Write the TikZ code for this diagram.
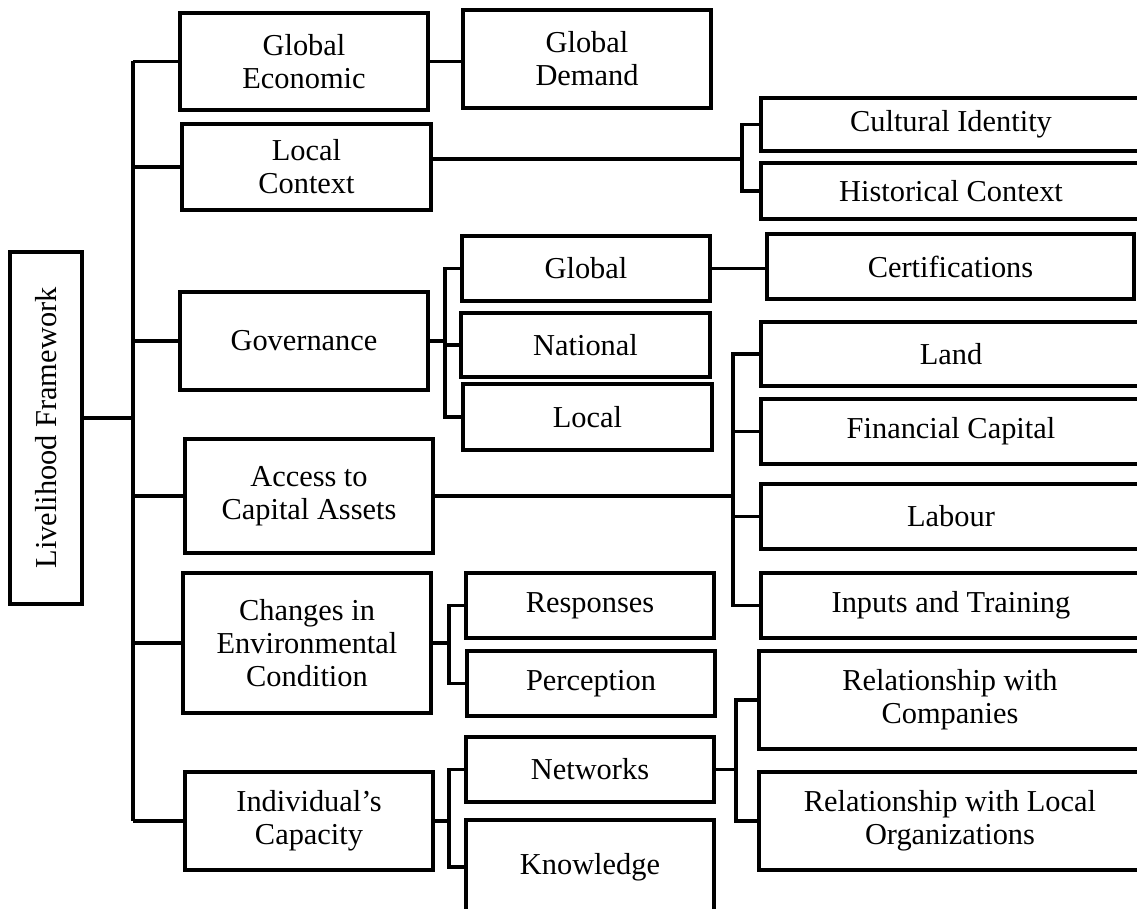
\documentclass[tikz,border=0pt]{standalone}
\usepackage{fontspec}
\setmainfont{Liberation Serif}

\tikzset{
    box/.style={draw, line width=1.9pt, align=center, inner sep=0pt,
        font=\fontsize{15.2pt}{16.6pt}\selectfont},
    dims/.style 2 args={minimum width=#1, minimum height=#2},
    link/.style={line width=1.8pt},
}

\begin{document}
\begin{tikzpicture}[x=0.5pt, y=-0.5pt]
    \useasboundingbox (0,0) rectangle (1137,909);
    \clip (0,0) rectangle (1137,909);

    % root
    \node[box, dims={36pt}{176pt}] (root) at (46,428) {\rotatebox{90}{Livelihood Framework}};

    % first level
    \node[box, dims={124pt}{48.5pt}] (ge) at (304,61.5) {Global\\Economic};
    \node[box, dims={124.5pt}{43pt}] (lc) at (306.5,167) {Local\\Context};
    \node[box, dims={124pt}{49pt}] (gov) at (304,341) {Governance};
    \node[box, dims={124pt}{57pt}] (acc) at (309,496) {Access to\\Capital Assets};
    \node[box, dims={124pt}{70pt}] (chg) at (307,643) {Changes in\\Environmental\\Condition};
    \node[box, dims={124pt}{49pt}] (ind) at (309,821) {Individual’s\\Capacity};

    % second level
    \node[box, dims={124pt}{49pt}] (gd) at (587,59) {Global\\Demand};
    \node[box, dims={124pt}{32.5pt}] (glob) at (586,268.5) {Global};
    \node[box, dims={124.5pt}{32pt}] (nat) at (585.5,345) {National};
    \node[box, dims={124.5pt}{33pt}] (loc) at (587.5,417) {Local};
    \node[box, dims={124pt}{32.5pt}] (resp) at (590,605.5) {Responses};
    \node[box, dims={124pt}{32.5pt}] (perc) at (591,683.5) {Perception};
    \node[box, dims={124pt}{32.5pt}] (net) at (590,769.5) {Networks};
    \node[box, dims={124pt}{47pt}] (know) at (590,867) {Knowledge};

    % third level
    \node[box, dims={190pt}{26.5pt}] (cult) at (951,124.5) {Cultural Identity};
    \node[box, dims={190pt}{28pt}] (hist) at (951,191) {Historical Context};
    \node[box, dims={183.5pt}{32.5pt}] (cert) at (950.5,266.5) {Certifications};
    \node[box, dims={190pt}{32pt}] (land) at (951,354) {Land};
    \node[box, dims={190pt}{32.5pt}] (fin) at (951,431.5) {Financial Capital};
    \node[box, dims={190pt}{32.5pt}] (lab) at (951,516.5) {Labour};
    \node[box, dims={190pt}{32.5pt}] (inp) at (951,605.5) {Inputs and Training};
    \node[box, dims={191pt}{49pt}] (relc) at (950,700) {Relationship with\\Companies};
    \node[box, dims={191pt}{49pt}] (rell) at (950,821) {Relationship with Local\\Organizations};

    % bracket positions
    \coordinate (trunk) at (133,418);
    \coordinate (lcb) at (742,0);
    \coordinate (govb) at (445,0);
    \coordinate (accb) at (733,0);
    \coordinate (chgb) at (449,0);
    \coordinate (indb) at (449,0);
    \coordinate (netb) at (736,0);

    % main trunk
    \draw[link] ([yshift=5pt]root.east) -- (trunk);
    \draw[link] (ge.west -| trunk) -- (ind.west -| trunk);
    \foreach \n in {ge,lc,gov,acc,chg,ind}
        \draw[link] (\n.west -| trunk) -- (\n.west);

    \draw[link] (ge.east) -- (ge.east -| gd.west);
    \draw[link] (glob.east) -- (glob.east -| cert.west);

    % local context
    \draw[link] ([yshift=4pt]lc.east) -- ([yshift=4pt]lc.east -| lcb);
    \draw[link] (cult.west) -| (lcb |- hist.west) -- (hist.west);

    % governance
    \draw[link] (gov.east) -- (gov.east -| govb);
    \draw[link] (glob.west) -| (govb |- loc.west) -- (loc.west);
    \draw[link] (nat.west) -- (nat.west -| govb);

    % capital assets
    \draw[link] (acc.east) -- (acc.east -| accb);
    \draw[link] (land.west) -| (accb |- inp.west) -- (inp.west);
    \draw[link] (fin.west) -- (fin.west -| accb);
    \draw[link] (lab.west) -- (lab.west -| accb);

    % environment
    \draw[link] (chg.east) -- (chg.east -| chgb);
    \draw[link] (resp.west) -| (chgb |- perc.west) -- (perc.west);

    % capacity
    \draw[link] (ind.east) -- (ind.east -| indb);
    \draw[link] (net.west) -| (indb |- know.west) -- (know.west);
    \draw[link] (net.east) -- (net.east -| netb);
    \draw[link] (relc.west) -| (netb |- rell.west) -- (rell.west);
\end{tikzpicture}
\end{document}
